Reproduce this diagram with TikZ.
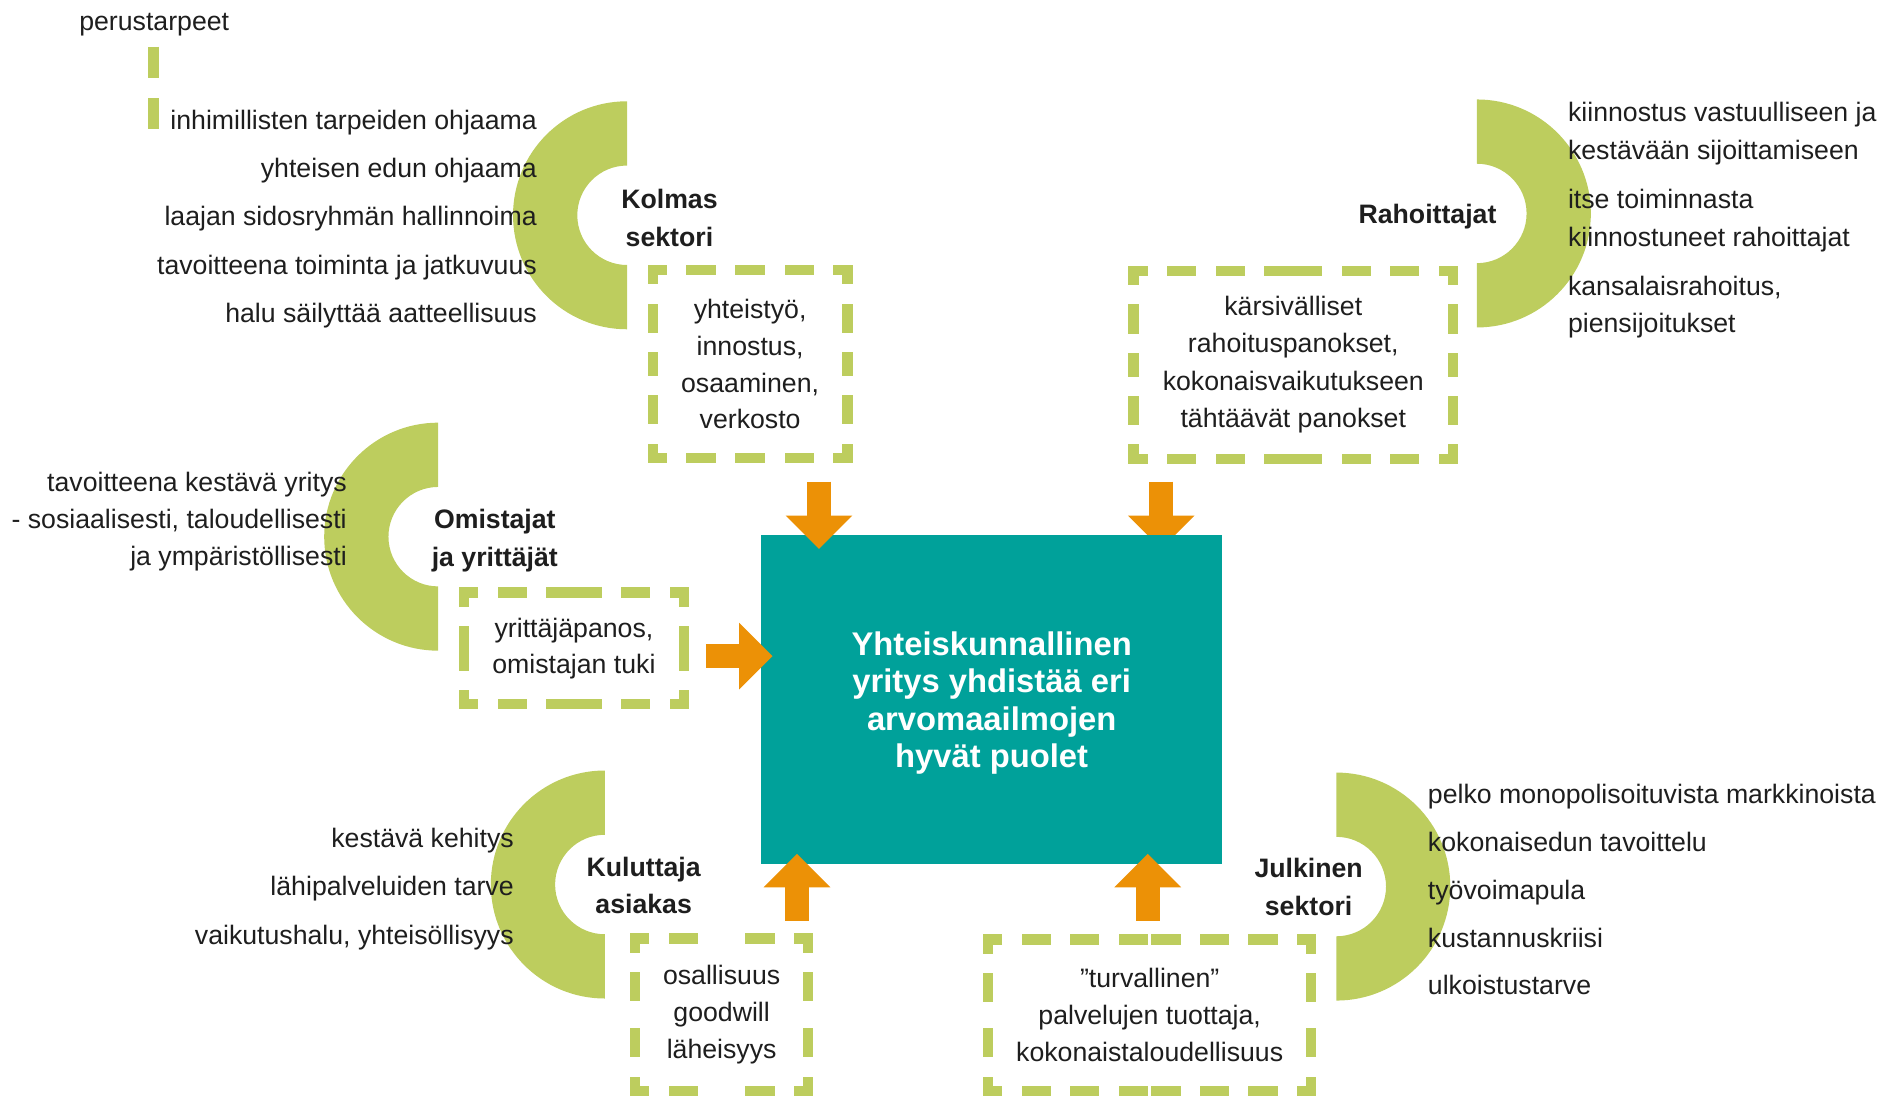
\documentclass[tikz,border=0pt]{standalone}
\usepackage{fontspec}
\setmainfont{Liberation Sans}
\usepackage{xcolor}
\usetikzlibrary{arrows.meta}
\definecolor{leaf}{RGB}{189,205,94}
\definecolor{sea}{RGB}{0,161,154}
\definecolor{amber}{RGB}{236,145,6}
\definecolor{ink}{RGB}{30,30,30}
% half rings: flat side right (left) or left (right)
\newcommand{\ringleft}[1]{\fill[leaf] (#1) ++(0,94) arc[start angle=90,end angle=270,radius=94] -- ++(0,53) arc[start angle=270,end angle=90,radius=41] -- cycle;}
\newcommand{\ringright}[1]{\fill[leaf] (#1) ++(0,94) arc[start angle=90,end angle=-90,radius=94] -- ++(0,53) arc[start angle=-90,end angle=90,radius=41] -- cycle;}
% dashed frame, each side drawn from both corners to its middle
\newcommand{\dashframe}[1]{\foreach \c/\m in {north west/north,north east/north,north east/east,south east/east,south east/south,south west/south,south west/west,north west/west}
  \draw[frame] (#1.\c) -- (#1.\m);}

\begin{document}
\begin{tikzpicture}[x=0.5pt,y=0.5pt,
  item/.style={text=ink,inner sep=0pt,font=\fontsize{11}{15.5}\selectfont},
  sector/.style={text=ink,inner sep=0pt,align=center,font=\bfseries\fontsize{11}{15.5}\selectfont},
  dashbox/.style={text=ink,inner sep=0pt,outer sep=0pt,align=center,font=\fontsize{11}{15.2}\selectfont},
  hub/.style={fill=sea,inner sep=0pt,outer sep=0pt},
  hubtext/.style={text=white,inner sep=0pt,align=center,font=\bfseries\fontsize{13.5}{15.4}\selectfont}]
\useasboundingbox (0,0) rectangle (1560,-903.7);
\tikzset{frame/.style={draw=leaf,line width=4.25pt,line cap=rect,dash pattern=on 7.75pt off 12.25pt,dash phase=4pt}}
\tikzset{bigarrow/.style={draw=amber,line width=10pt,-{Triangle[length=13.75pt,width=27.5pt,line width=0pt]}}}
\tikzset{stem/.style={draw=leaf,line width=4.5pt,dash pattern=on 12.75pt off 8.5pt}}

\coordinate (kolc) at (517,-177.5);
\coordinate (rahc) at (1217.7,-176);
\coordinate (omic) at (361.3,-442.5);
\coordinate (kulc) at (498.7,-729.3);
\coordinate (julc) at (1101.8,-731);
\ringleft{kolc}
\ringright{rahc}
\ringleft{omic}
\ringleft{kulc}
\ringright{julc}

\node[item,anchor=west]   (perus)  at (65,-20)    {perustarpeet};
\coordinate (st1) at (126.5,-38.5);
\coordinate (st2) at (126.5,-106.6);
\draw[stem] (st1) -- (st2);

\node[item,anchor=east,align=right,font=\fontsize{11}{19.9}\selectfont] (kolist) at (443,-180.5)
  {inhimillisten tarpeiden ohjaama\\yhteisen edun ohjaama\\laajan sidosryhmän hallinnoima\\tavoitteena toiminta ja jatkuvuus\\halu säilyttää aatteellisuus};
\node[item,anchor=west,align=left] (rahlist) at (1292.5,-181.75)
  {kiinnostus vastuulliseen ja\\kestävään sijoittamiseen\\[4.8pt]itse toiminnasta\\kiinnostuneet rahoittajat\\[4.8pt]kansalaisrahoitus,\\piensijoitukset};
\node[item,anchor=east,align=right,font=\fontsize{11}{15.25}\selectfont] (omilist) at (286.3,-430)
  {tavoitteena kestävä yritys\\- sosiaalisesti, taloudellisesti\\ja ympäristöllisesti};
\node[item,anchor=east,align=right,font=\fontsize{11}{19.85}\selectfont] (kullist) at (424,-733)
  {kestävä kehitys\\lähipalveluiden tarve\\vaikutushalu, yhteisöllisyys};
\node[item,anchor=west,align=left,font=\fontsize{11}{19.75}\selectfont] (jullist) at (1177,-733.5)
  {pelko monopolisoituvista markkinoista\\kokonaisedun tavoittelu\\työvoimapula\\kustannuskriisi\\ulkoistustarve};

\node[sector] (kol) at (552,-179.5)    {Kolmas\\sektori};
\node[sector] (rah) at (1177,-178.5)   {Rahoittajat};
\node[sector] (omi) at (408,-445.5)    {Omistajat\\ja yrittäjät};
\node[sector] (kul) at (530.7,-730) {Kuluttaja\\asiakas};
\node[sector] (jul) at (1079,-731.5)   {Julkinen\\sektori};

\node[dashbox,minimum width=80.25pt,minimum height=77.5pt] (kolbox) at (618.5,-300.25)
  {yhteistyö,\\innostus,\\osaaminen,\\verkosto};
\node[dashbox,minimum width=131.7pt,minimum height=77.5pt,font=\fontsize{11}{15.45}\selectfont] (rahbox) at (1066.35,-300.75)
  {kärsivälliset\\rahoituspanokset,\\kokonaisvaikutukseen\\tähtäävät panokset};
\node[dashbox,minimum width=90.7pt,minimum height=46.05pt,font=\fontsize{11}{14.8}\selectfont] (omibox) at (473.25,-534.6)
  {yrittäjäpanos,\\omistajan tuki};
\node[dashbox,minimum width=71.35pt,minimum height=62.8pt,font=\fontsize{11}{15.3}\selectfont] (kulbox) at (595,-836.55)
  {osallisuus\\goodwill\\läheisyys};
\node[dashbox,minimum width=133.2pt,minimum height=62.3pt] (julbox) at (947.95,-837.05)
  {”turvallinen”\\palvelujen tuottaja,\\kokonaistaloudellisuus};
\dashframe{kolbox}
\dashframe{rahbox}
\dashframe{omibox}
\dashframe{kulbox}
\dashframe{julbox}

% this one goes under the box
\coordinate (rah1) at (957.5,-397.1);
\coordinate (rah2) at (957.5,-452.6);
\path (rah1) edge[bigarrow] (rah2);

\node[hub,minimum width=190.05pt,minimum height=135.65pt] (hub) at (817.65,-576.75) {};
\node[hubtext] (hubtext) at (817.65,-579.75)
  {Yhteiskunnallinen\\yritys yhdistää eri\\arvomaailmojen\\hyvät puolet};

\coordinate (kol1) at (675.3,-397.1);
\coordinate (kol2) at (675.3,-452.6);
\coordinate (omi1) at (582,-541);
\coordinate (omi2) at (637,-541);
\coordinate (kul1) at (657.1,-759.1);
\coordinate (kul2) at (657.1,-704.1);
\coordinate (jul1) at (946.3,-759.1);
\coordinate (jul2) at (946.3,-704.1);
\path (kol1) edge[bigarrow] (kol2)
      (omi1) edge[bigarrow] (omi2)
      (kul1) edge[bigarrow] (kul2)
      (jul1) edge[bigarrow] (jul2);
\end{tikzpicture}
\end{document}
